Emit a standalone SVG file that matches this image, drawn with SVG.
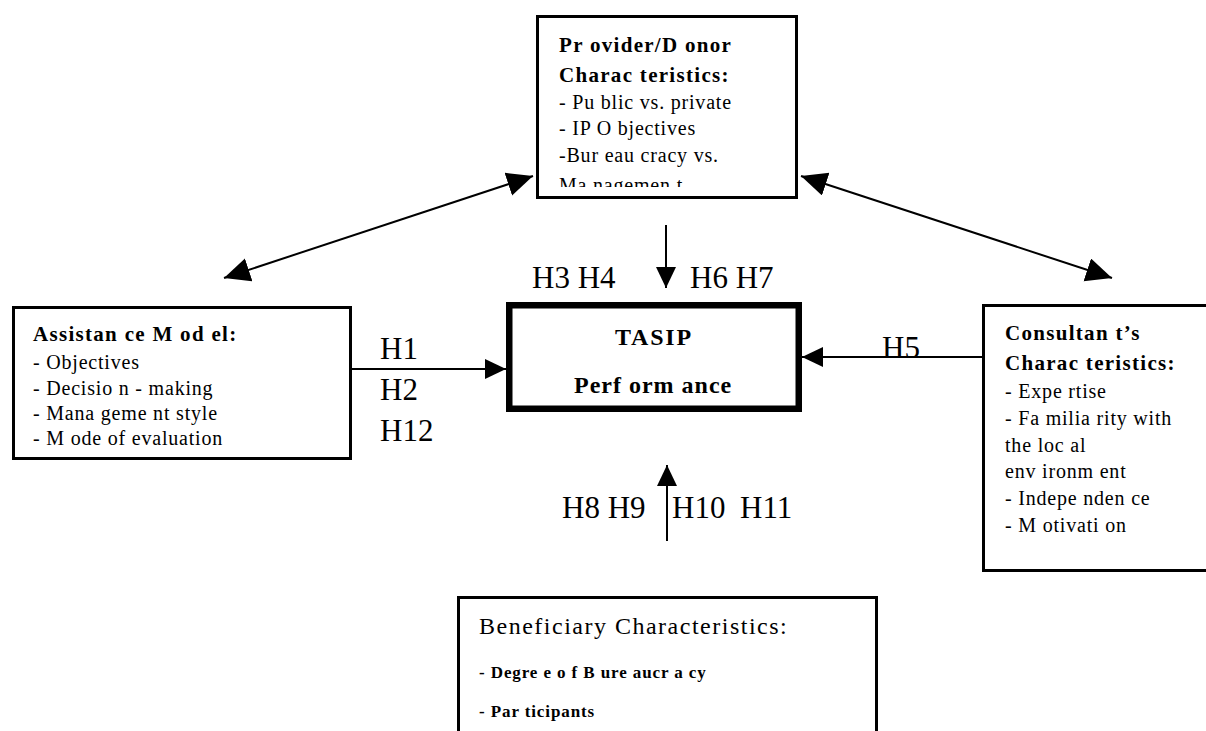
<svg xmlns="http://www.w3.org/2000/svg" width="1206" height="731" viewBox="0 0 1206 731">
<style>
text{font-family:"Liberation Serif","Times New Roman",serif;fill:#000}
.h{font-size:31px}
.hd{font-size:21px;font-weight:bold;letter-spacing:1.3px}
.bd{font-size:20px;letter-spacing:0.8px}
.box{fill:#fff;stroke:#000;stroke-width:3}
.con{stroke:#000;stroke-width:2;fill:none}
</style>
<defs>
<marker id="ah" markerUnits="userSpaceOnUse" markerWidth="22" markerHeight="22" refX="21" refY="10" orient="auto-start-reverse">
<path d="M0,0 L21,10 L0,20 z" fill="#000"/>
</marker>
<marker id="ahb" markerUnits="userSpaceOnUse" markerWidth="28" markerHeight="26" refX="26" refY="12" orient="auto-start-reverse">
<path d="M0,0 L26,12 L0,24 z" fill="#000"/>
</marker>
<clipPath id="pclip"><rect x="536" y="15" width="262" height="172"/></clipPath>
</defs>
<g id="connectors">
<line class="con" x1="224" y1="278" x2="533" y2="176" marker-start="url(#ahb)" marker-end="url(#ahb)"/>
<line class="con" x1="801" y1="176" x2="1112" y2="278" marker-start="url(#ahb)" marker-end="url(#ahb)"/>
<line class="con" x1="666" y1="225" x2="666" y2="288" marker-end="url(#ah)"/>
<line class="con" x1="352" y1="369" x2="506" y2="369" marker-end="url(#ah)"/>
<line class="con" x1="982" y1="357" x2="802" y2="357" marker-end="url(#ah)"/>
<line class="con" x1="667" y1="541" x2="667" y2="465" marker-end="url(#ah)"/>
</g>
<g id="labels">
<text class="h" x="532" y="288">H3 H4</text>
<text class="h" x="690" y="288">H6 H7</text>
<text class="h" x="380" y="359">H1</text>
<text class="h" x="380" y="400">H2</text>
<text class="h" x="380" y="441">H12</text>
<text class="h" x="882" y="358">H5</text>
<text class="h" x="562" y="518">H8 H9</text>
<text class="h" x="672" y="518">H10</text>
<text class="h" x="740" y="518">H11</text>
</g>
<g id="provider">
<rect class="box" x="537.5" y="16.5" width="259" height="181"/>
<g clip-path="url(#pclip)">
<text class="hd" x="559" y="52">Pr ovider/D onor</text>
<text class="hd" x="559" y="82">Charac teristics:</text>
<text class="bd" x="559" y="109">- Pu blic vs. private</text>
<text class="bd" x="559" y="135">- IP O bjectives</text>
<text class="bd" x="559" y="162">-Bur eau cracy vs.</text>
<text class="bd" x="559" y="192">Ma nagemen t</text>
</g>
</g>
<g id="assistance">
<rect class="box" x="13.5" y="307.5" width="337" height="151"/>
<text class="hd" x="33" y="341">Assistan ce M od el:</text>
<text class="bd" x="33" y="369">- Objectives</text>
<text class="bd" x="33" y="395">- Decisio n - making</text>
<text class="bd" x="33" y="420">- Mana geme nt style</text>
<text class="bd" x="33" y="445">- M ode of evaluation</text>
</g>
<g id="tasip">
<rect x="509.25" y="305.25" width="289.5" height="103.5" fill="#fff" stroke="#000" stroke-width="6.5"/>
<text x="615" y="345" style="font-size:24px;font-weight:bold;letter-spacing:1.8px">TASIP</text>
<text x="574" y="393" style="font-size:24px;font-weight:bold;letter-spacing:1px">Perf orm ance</text>
</g>
<g id="consultant">
<rect class="box" x="983.5" y="305.5" width="240" height="265"/>
<text class="hd" x="1005" y="340">Consultan t’s</text>
<text class="hd" x="1005" y="370">Charac teristics:</text>
<text class="bd" x="1005" y="398">- Expe rtise</text>
<text class="bd" x="1005" y="425">- Fa milia rity with</text>
<text class="bd" x="1005" y="452">the loc al</text>
<text class="bd" x="1005" y="478">env ironm ent</text>
<text class="bd" x="1005" y="505">- Indepe nden ce</text>
<text class="bd" x="1005" y="532">- M otivati on</text>
</g>
<g id="beneficiary">
<rect class="box" x="458.5" y="597.5" width="418" height="150"/>
<text x="479" y="634" style="font-size:24px;letter-spacing:1.5px">Beneficiary Characteristics:</text>
<text x="479" y="678" style="font-size:17px;font-weight:bold;letter-spacing:0.9px">- Degre e o f B ure aucr a cy</text>
<text x="479" y="717" style="font-size:17px;font-weight:bold;letter-spacing:0.9px">- Par ticipants</text>
</g>
</svg>
